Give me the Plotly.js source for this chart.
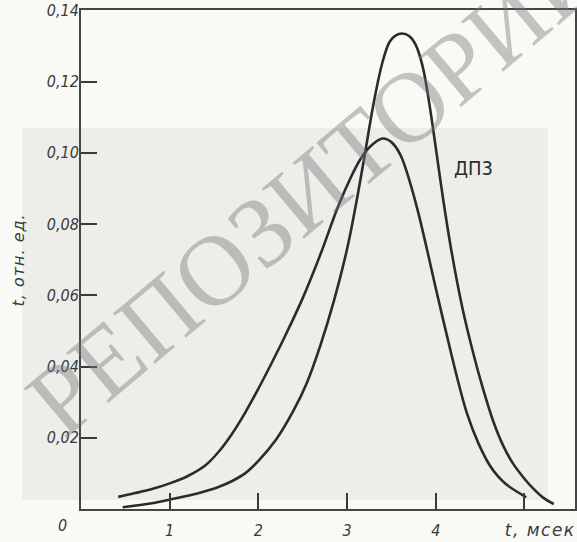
<!DOCTYPE html>
<html>
<head>
<meta charset="utf-8">
<script src="https://cdn.plot.ly/plotly-3.0.1.min.js"></script>
<style>
html,body{margin:0;padding:0;background:#f9f9f5;}
#chart{width:577px;height:542px;}
.annotation[data-index="2"] text{letter-spacing:1.5px;}
.annotation[data-index="3"] text{letter-spacing:1px;}
</style>
</head>
<body>
<div id="chart"></div>
<script>
// Broad curve (peak ~0.104 at t≈3.4 ms)
const tA = [0.42, 0.6, 0.8, 1.0, 1.2, 1.4, 1.55, 1.7, 1.85, 2.0, 2.15, 2.3, 2.5, 2.7, 2.9, 3.05, 3.15, 3.25, 3.4, 3.5, 3.6, 3.7, 3.8, 3.9, 4.0, 4.12, 4.24, 4.35, 4.48, 4.61, 4.7, 4.8, 5.02];
const iA = [0.0034, 0.0044, 0.0056, 0.0072, 0.0092, 0.0122, 0.0160, 0.0210, 0.0270, 0.0338, 0.0410, 0.0485, 0.0592, 0.0715, 0.0850, 0.0935, 0.0982, 0.1015, 0.1040, 0.1030, 0.0995, 0.0925, 0.0835, 0.0730, 0.0620, 0.0493, 0.0370, 0.0270, 0.0185, 0.0122, 0.0092, 0.0068, 0.0033];
// Tall curve "ДП3" (peak ~0.133 at t≈3.62 ms)
const tB = [0.47, 0.8, 1.03, 1.3, 1.55, 1.7, 1.85, 2.0, 2.2, 2.4, 2.55, 2.7, 2.85, 3.0, 3.1, 3.2, 3.3, 3.4, 3.48, 3.55, 3.62, 3.7, 3.77, 3.85, 3.92, 4.0, 4.085, 4.18, 4.3, 4.42, 4.53, 4.65, 4.76, 4.87, 5.0, 5.1, 5.21, 5.33];
const iB = [0.0005, 0.0016, 0.0028, 0.0043, 0.0062, 0.0078, 0.0100, 0.0135, 0.0195, 0.0278, 0.0356, 0.0460, 0.0583, 0.0730, 0.0855, 0.0995, 0.1140, 0.1255, 0.1312, 0.1330, 0.1335, 0.1328, 0.1305, 0.1245, 0.1150, 0.1015, 0.0867, 0.0720, 0.0565, 0.0440, 0.0340, 0.0245, 0.0178, 0.0128, 0.0085, 0.0057, 0.0032, 0.0014];

const xTicks = [1, 2, 3, 4, 5];
const xTickText = ['1', '2', '3', '4', ''];
const yTicks = [0.02, 0.04, 0.06, 0.08, 0.10, 0.12, 0.14];

const narrow = 'DejaVu Sans Condensed, Liberation Sans Narrow, sans-serif';
const lineColor = '#2b2b2b';

const traces = [
  {x: tA, y: iA, mode: 'lines', name: 'кривая 1',
   line: {color: lineColor, width: 2.6, shape: 'spline', smoothing: 1}},
  {x: tB, y: iB, mode: 'lines', name: 'ДП3',
   line: {color: lineColor, width: 2.6, shape: 'spline', smoothing: 1}}
];

const tickFont = {family: narrow, size: 16, color: '#3a3a3a', style: 'italic'};
const px = v => (v - 81) / 494;
const py = v => (509 - v) / 499;

const layout = {
  width: 577, height: 542,
  margin: {l: 81, r: 2, t: 10, b: 33},
  paper_bgcolor: '#f9f9f5',
  plot_bgcolor: 'rgba(0,0,0,0)',
  separators: ', ',
  showlegend: false,
  xaxis: {
    range: [0, 5.57], tickvals: xTicks, ticktext: xTickText,
    ticks: 'inside', ticklen: 16, tickwidth: 2, tickcolor: '#3a3a3a',
    showline: true, mirror: true, linecolor: '#454545', linewidth: 2,
    showgrid: false, zeroline: false, ticklabelstandoff: 6,
    tickfont: tickFont
  },
  yaxis: {
    range: [0, 0.1401], tickvals: yTicks, tickformat: '.2f',
    ticks: 'inside', ticklen: 16, tickwidth: 2, tickcolor: '#3a3a3a',
    showline: true, mirror: true, linecolor: '#454545', linewidth: 2,
    showgrid: false, zeroline: false, ticklabelstandoff: -3,
    tickfont: tickFont
  },
  shapes: [
    {type: 'rect', xref: 'paper', yref: 'paper', layer: 'below',
     x0: px(22), x1: px(548), y0: py(500), y1: py(128),
     fillcolor: '#ededea', line: {width: 0}}
  ],
  annotations: [
    {text: 'ДП3', xref: 'x', yref: 'y', x: 4.42, y: 0.0957, showarrow: false,
     xanchor: 'center', yanchor: 'middle',
     font: {family: narrow, size: 20, color: '#2b2b2b'}},
    {text: '0', xref: 'paper', yref: 'paper', x: px(62), y: py(525),
     xanchor: 'center', yanchor: 'middle', showarrow: false, font: tickFont},
    {text: 't, мсек', xref: 'paper', yref: 'paper', x: px(573), y: py(530),
     xanchor: 'right', yanchor: 'middle', showarrow: false,
     font: {family: 'DejaVu Sans, sans-serif', size: 17, color: '#3a3a3a', style: 'italic'}},
    {text: 't, отн. ед.', xref: 'paper', yref: 'paper', x: px(18), y: py(260),
     xanchor: 'center', yanchor: 'middle', showarrow: false, textangle: -90,
     font: {family: 'DejaVu Sans, sans-serif', size: 16, color: '#3a3a3a', style: 'italic'}},
    {text: 'РЕПОЗИТОРИЙ', xref: 'paper', yref: 'paper', x: px(315), y: py(185),
     xanchor: 'center', yanchor: 'middle', showarrow: false, textangle: -40,
     font: {family: 'Liberation Serif, DejaVu Serif, serif', size: 100, color: 'rgba(120,120,120,0.42)'}}
  ]
};

Plotly.newPlot('chart', traces, layout, {staticPlot: true, displayModeBar: false});
</script>
</body>
</html>
